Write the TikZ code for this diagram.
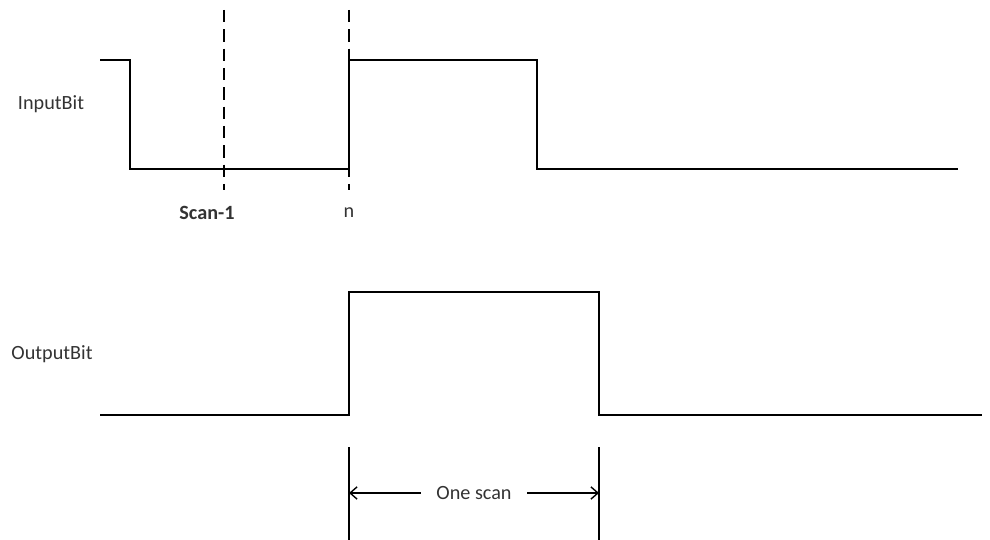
\documentclass[tikz,border=0pt]{standalone}
\usepackage{fontspec}
\setmainfont{Carlito}
\usetikzlibrary{arrows.meta}

\begin{document}
\begin{tikzpicture}[x=0.02cm,y=-0.02cm,line width=0.8pt,
    sigtext/.style={font=\fontsize{11.5}{14}\selectfont,text=black!80},
    marker/.style={line width=0.9pt,dash pattern=on 7pt off 4pt},
    >={Straight Barb[length=4pt,width=7pt]}]
        \useasboundingbox (0,0) rectangle (990,540);

        % Draw labels
        \node[sigtext] (inlbl) at (51,104) {InputBit};
        \node[sigtext] (outlbl) at (52,354) {OutputBit};
        \node[sigtext,font=\fontsize{11.5}{14}\selectfont\bfseries] (scanlbl) at (207,213) {Scan-1};
        \node[sigtext] (nlbl) at (349,213) {n};

        % Draw InputBit points explicitly
        \coordinate (i0) at (100,60);
        \coordinate (i1) at (130,60);
        \coordinate (i2) at (130,169);
        \coordinate (i3) at (349,169);
        \coordinate (i4) at (349,60);
        \coordinate (i5) at (537,60);
        \coordinate (i6) at (537,169);
        \coordinate (i7) at (958,169);

        % Draw OutputBit points explicitly
        \coordinate (o0) at (100,415);
        \coordinate (o1) at (349,415);
        \coordinate (o2) at (349,292);
        \coordinate (o3) at (599,292);
        \coordinate (o4) at (599,415);
        \coordinate (o5) at (982,415);

        % Draw waveforms
        \draw (i0) -- (i1) -- (i2) -- (i3) -- (i4) -- (i5) -- (i6) -- (i7);
        \draw (o0) -- (o1) -- (o2) -- (o3) -- (o4) -- (o5);

        % Draw dashed markers
        \coordinate (d1t) at (224,10);
        \coordinate (d1b) at (224,190);
        \coordinate (d2t) at (349,10);
        \coordinate (d2b) at (349,190);
        \draw[marker] (d1t) -- (d1b);
        \draw[marker] (d2t) -- (d2b);

        % Draw scan width
        \coordinate (v1t) at (349,447);
        \coordinate (v1b) at (349,540);
        \coordinate (v2t) at (599,447);
        \coordinate (v2b) at (599,540);
        \draw (v1t) -- (v1b);
        \draw (v2t) -- (v2b);
        \node[sigtext,inner xsep=8.5pt] (onescan) at (474,493) {One scan};
        \draw[->] (onescan.west) -- (v1t |- onescan);
        \draw[->] (onescan.east) -- (v2t |- onescan);
    \end{tikzpicture}
\end{document}
